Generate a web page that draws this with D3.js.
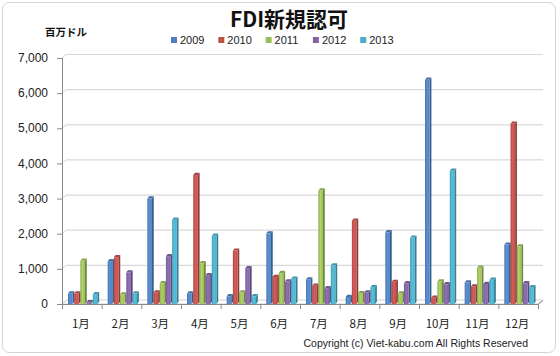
<!DOCTYPE html>
<html><head><meta charset="utf-8">
<script src="https://cdn.jsdelivr.net/npm/d3@7"></script>
<style>body{margin:0;background:#fff}svg{display:block}</style>
</head><body>
<script>
const months = ["1月","2月","3月","4月","5月","6月","7月","8月","9月","10月","11月","12月"];
const years = ["2009","2010","2011","2012","2013"];
const s2009 = [300,1220,3000,300,220,2010,700,200,2040,6380,610,1690];
const s2010 = [300,1330,330,3670,1520,770,520,2370,630,180,500,5130];
const s2011 = [1230,270,590,1160,330,880,3230,310,300,640,1030,1640];
const s2012 = [50,900,1360,820,1020,640,450,330,590,560,570,590];
const s2013 = [280,300,2400,1940,220,720,1100,480,1890,3790,690,480];
const seriesValues = [s2009,s2010,s2011,s2012,s2013];
const yTicks = [0,1000,2000,3000,4000,5000,6000,7000];
const colors = ["#4F81BD","#C0504D","#9BBB59","#8064A2","#4BACC6"];
const title = "FDI新規認可";
const unitLabel = "百万ドル";
const copyright = "Copyright (c) Viet-kabu.com  All Rights Reserved";

(function(){
const W = 560, H = 356;
const svg = d3.select("body").append("svg").attr("width", W).attr("height", H);
const defs = svg.append("defs");

const pLeft = 62, pRight = 538, pBottom = 304, pTop = 58;
const DX = 5, DY = -4;
const x = d3.scaleBand().domain(months).range([pLeft, pRight]).padding(0);
const xi = d3.scaleBand().domain(years).range([6, 37]).padding(0);
const y = d3.scaleLinear().domain([0, 7000]).range([pBottom, pTop]);

svg.append("rect").attr("x", 2.5).attr("y", 2.5).attr("width", 553).attr("height", 350)
  .attr("rx", 7).attr("fill", "#fff").attr("stroke", "#d4d4d4").attr("stroke-width", 1);

colors.forEach((c, i) => {
  const g = defs.append("linearGradient").attr("id", "g" + i).attr("x1", 0).attr("x2", 1).attr("y1", 0).attr("y2", 0);
  const base = d3.color(c);
  g.append("stop").attr("offset", 0).attr("stop-color", base.darker(0.3));
  g.append("stop").attr("offset", 0.45).attr("stop-color", base.brighter(0.35));
  g.append("stop").attr("offset", 1).attr("stop-color", base);
});

const grid = svg.append("g");
yTicks.forEach(v => {
  if (v > 0) {
    grid.append("line").attr("x1", pLeft + DX).attr("x2", pRight + DX)
      .attr("y1", y(v) + DY + 0.5).attr("y2", y(v) + DY + 0.5)
      .attr("stroke", "#d9d9d9").attr("stroke-width", 1.2);
  }
  grid.append("line").attr("x1", pLeft).attr("y1", y(v)).attr("x2", pLeft + DX).attr("y2", y(v) + DY)
    .attr("stroke", "#d0d0d0");
});

svg.append("path")
  .attr("d", `M${pLeft},${pBottom}L${pLeft + DX},${pBottom + DY}L${pRight + DX},${pBottom + DY}L${pRight},${pBottom}Z`)
  .attr("fill", "#fff").attr("stroke", "#d0d0d0").attr("stroke-width", 1);

svg.append("line").attr("x1", pLeft + 0.5).attr("x2", pLeft + 0.5).attr("y1", y(7000)).attr("y2", pBottom)
  .attr("stroke", "#8a8a8a");
svg.append("line").attr("x1", pLeft).attr("x2", pRight).attr("y1", pBottom + 0.5).attr("y2", pBottom + 0.5)
  .attr("stroke", "#8a8a8a");
svg.append("line").attr("x1", pRight).attr("y1", pBottom + 0.5).attr("x2", pRight + DX).attr("y2", pBottom + DY + 0.5)
  .attr("stroke", "#8a8a8a");

const yAxis = svg.append("g");
yTicks.forEach(v => {
  yAxis.append("line").attr("x1", pLeft - 5).attr("x2", pLeft).attr("y1", y(v) + 0.5).attr("y2", y(v) + 0.5)
    .attr("stroke", "#8a8a8a");
  yAxis.append("text").attr("x", 48).attr("y", y(v)).attr("dy", "0.35em")
    .attr("text-anchor", "end").attr("font-family", "Liberation Sans, Arial, sans-serif")
    .attr("font-size", 12).attr("fill", "#222").text(d3.format(",")(v));
});

const xAxis = svg.append("g");
d3.range(months.length + 1).forEach(i => {
  const xx = pLeft + i * x.bandwidth();
  xAxis.append("line").attr("x1", xx + 0.5).attr("x2", xx + 0.5).attr("y1", pBottom).attr("y2", pBottom + 5)
    .attr("stroke", "#8a8a8a");
});
months.forEach(m => {
  xAxis.append("text").attr("x", x(m) + x.bandwidth() / 2 - 1).attr("y", 324).attr("dy", "0.35em")
    .attr("text-anchor", "middle").attr("font-family", "Noto Sans CJK JP, sans-serif")
    .attr("font-size", 11.5).attr("fill", "#222").text(m);
});

const bw = 4.6, bdx = 1.8, bdy = -2.2;
const bars = svg.append("g");
months.forEach((m, mi) => {
  years.forEach((yr, si) => {
    const v = seriesValues[si][mi];
    const x0 = x(m) + xi(yr);
    const yt = y(v);
    const c = d3.color(colors[si]);
    const g = bars.append("g");
    g.append("path")
      .attr("d", `M${x0 + bw},${yt}L${x0 + bw + bdx},${yt + bdy}L${x0 + bw + bdx},${pBottom + bdy}L${x0 + bw},${pBottom}Z`)
      .attr("fill", c.darker(0.9));
    g.append("path")
      .attr("d", `M${x0},${yt}L${x0 + bdx},${yt + bdy}L${x0 + bw + bdx},${yt + bdy}L${x0 + bw},${yt}Z`)
      .attr("fill", c.darker(0.4));
    g.append("rect").attr("x", x0).attr("y", yt).attr("width", bw).attr("height", pBottom - yt)
      .attr("fill", `url(#g${si})`);
  });
});

svg.append("text").attr("x", 289).attr("y", 27).attr("text-anchor", "middle")
  .attr("font-family", "Noto Sans CJK JP, sans-serif").attr("font-weight", "bold")
  .attr("font-size", 21).attr("fill", "#111").text(title);

svg.append("text").attr("x", 45).attr("y", 32).attr("dy", "0.35em")
  .attr("font-family", "Noto Sans CJK JP, sans-serif").attr("font-weight", "bold")
  .attr("font-size", 10.5).attr("fill", "#111").text(unitLabel);

const lg = svg.append("g");
years.forEach((yr, i) => {
  const lx = 171 + i * 47.3;
  lg.append("rect").attr("x", lx).attr("y", 37).attr("width", 6).attr("height", 6).attr("fill", colors[i]);
  lg.append("text").attr("x", lx + 9).attr("y", 40).attr("dy", "0.35em")
    .attr("font-family", "Liberation Sans, Arial, sans-serif").attr("font-size", 11)
    .attr("fill", "#222").text(yr);
});

svg.append("text").attr("x", 528).attr("y", 343).attr("dy", "0.35em").attr("text-anchor", "end")
  .attr("font-family", "Liberation Sans, Arial, sans-serif").attr("font-size", 10.5)
  .attr("fill", "#222").text(copyright);
})();
</script>
</body></html>
